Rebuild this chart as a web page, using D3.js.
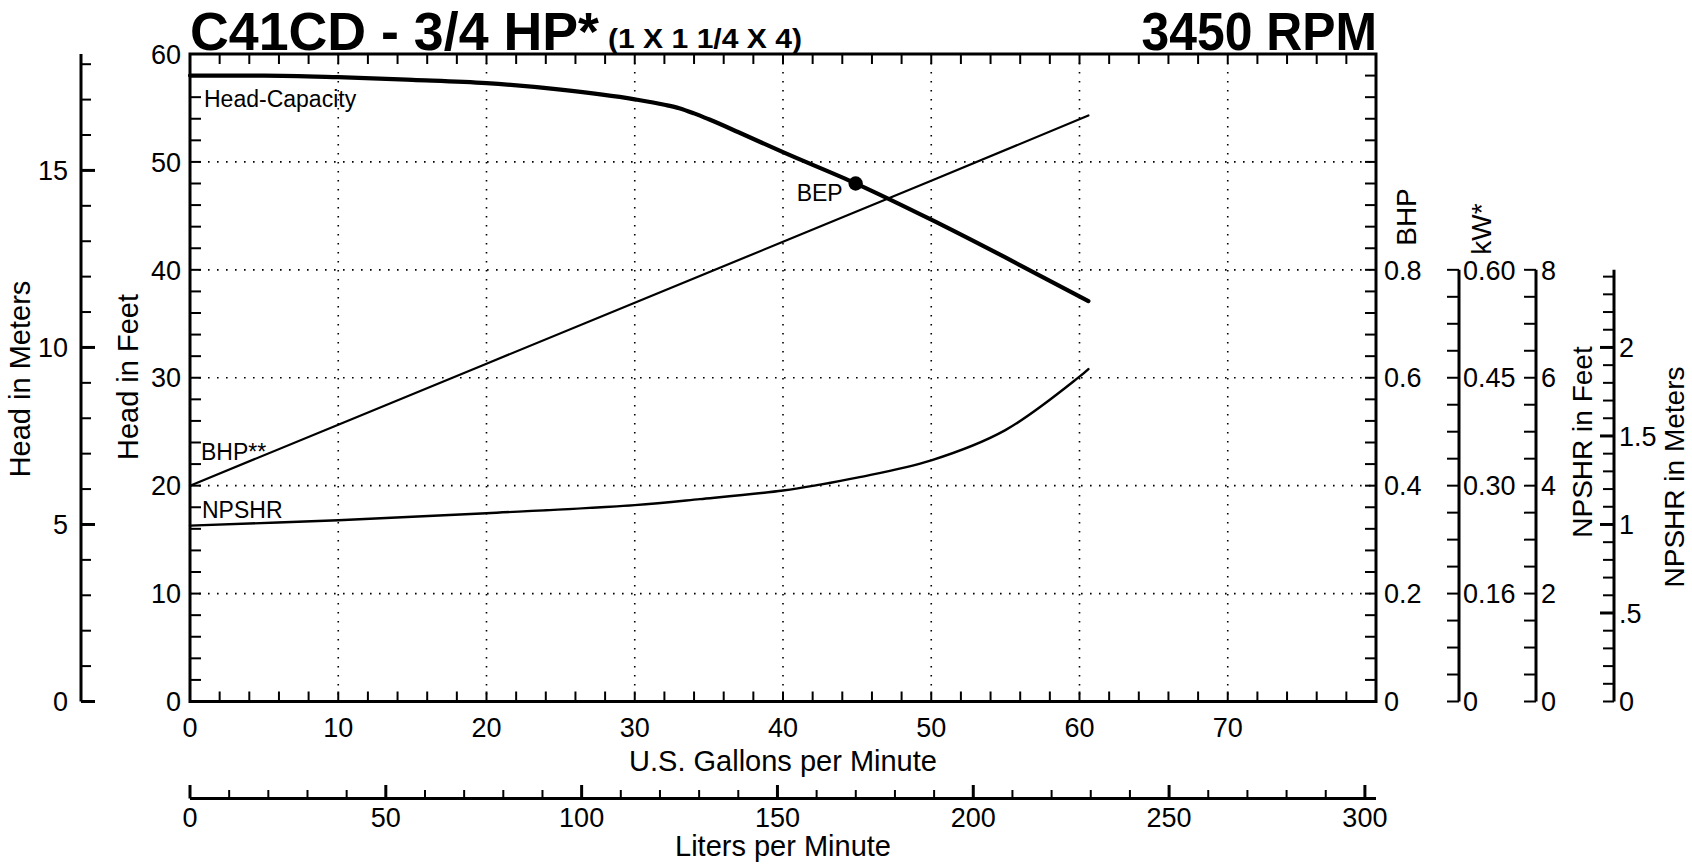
<!DOCTYPE html>
<html><head><meta charset="utf-8">
<script src="https://cdn.jsdelivr.net/npm/d3@7"></script>
<style>
body{margin:0;background:#fff}
svg{display:block}
text{font-family:"Liberation Sans",Arial,Helvetica,sans-serif;fill:#000}
</style>
</head><body>
<svg id="c" width="1692" height="867"></svg>
<script>
// ---------- data ----------
const headGpm  = [0, 5, 10, 15, 20, 25, 30, 32, 33, 34, 35, 37, 40, 45, 50, 55, 60.6];
const headFt   = [58.0, 58.0, 57.85, 57.6, 57.3, 56.7, 55.8, 55.3, 54.98, 54.5, 53.95, 52.75, 50.9, 47.95, 44.65, 41.15, 37.1];
const bhpGpm   = [0, 10, 20, 30, 40, 50, 60.6];
const bhpVal   = [0.40, 0.513, 0.626, 0.739, 0.852, 0.965, 1.086];
const npshrGpm = [0, 10, 20, 30, 34.4, 40, 42.5, 45, 50, 55, 60, 60.6];
const npshrFt  = [3.26, 3.36, 3.49, 3.64, 3.75, 3.91, 4.02, 4.15, 4.47, 5.03, 6.02, 6.16];
const bepGpm = [44.9];
const bepFt  = [48.0];

const gpmLabels    = [0, 10, 20, 30, 40, 50, 60, 70];
const litersLabels = [0, 50, 100, 150, 200, 250, 300];
const feetLabels   = [0, 10, 20, 30, 40, 50, 60];
const meterLabels  = [0, 5, 10, 15];
const bhpLabels    = [0, 0.2, 0.4, 0.6, 0.8];
const bhpLabelText = ["0", "0.2", "0.4", "0.6", "0.8"];
const kwLabelText  = ["0", "0.16", "0.30", "0.45", "0.60"];
const npshrFtLabels = [0, 2, 4, 6, 8];
const npshrMLabels  = [0, 0.5, 1, 1.5, 2];
const npshrMLabelText = ["0", ".5", "1", "1.5", "2"];

const titleMain = "C41CD - 3/4 HP*";
const titleSub  = "(1 X 1 1/4 X 4)";
const titleRpm  = "3450 RPM";

// ---------- scales ----------
const L0 = 190, R0 = 1376, T0 = 54, B0 = 701.5;
const FT_PER_M = 3.28084, L_PER_GAL = 3.78541;
const x   = d3.scaleLinear().domain([0, 80]).range([L0, R0]);
const xL  = d3.scaleLinear().domain([0, 80 * L_PER_GAL]).range([L0, R0]);
const yFt = d3.scaleLinear().domain([0, 60]).range([B0, T0]);
const yM  = d3.scaleLinear().domain([0, 60 / FT_PER_M]).range([B0, T0]);
const yBhp = d3.scaleLinear().domain([0, 1.2]).range([B0, T0]);
const yNF = d3.scaleLinear().domain([0, 12]).range([B0, T0]);
const yNM = d3.scaleLinear().domain([0, 12 / FT_PER_M]).range([B0, T0]);

const svg = d3.select("#c");
const FS = 27;

// ---------- grid ----------
const grid = svg.append("g").attr("stroke", "#000").attr("stroke-width", 1.6)
  .attr("stroke-dasharray", "1.6,7.4");
grid.selectAll(".gv").data(gpmLabels.filter(d => d > 0)).join("line")
  .attr("x1", d => x(d)).attr("x2", d => x(d)).attr("y1", T0).attr("y2", B0);
grid.selectAll(".gh").data(feetLabels.filter(d => d > 0 && d < 60)).join("line")
  .attr("y1", d => yFt(d)).attr("y2", d => yFt(d)).attr("x1", L0).attr("x2", R0);

// ---------- curves ----------
const headData = headGpm.map((g, i) => [g, headFt[i]]);
const bhpData = bhpGpm.map((g, i) => [g, bhpVal[i]]);
const npData = npshrGpm.map((g, i) => [g, npshrFt[i]]);

svg.append("path").datum(headData).attr("fill", "none").attr("stroke", "#000")
  .attr("stroke-width", 4.2).attr("stroke-linecap", "round").attr("stroke-linejoin", "round")
  .attr("d", d3.line().x(d => x(d[0])).y(d => yFt(d[1])).curve(d3.curveMonotoneX));
svg.append("path").datum(bhpData).attr("fill", "none").attr("stroke", "#000")
  .attr("stroke-width", 2.2).attr("stroke-linecap", "round")
  .attr("d", d3.line().x(d => x(d[0])).y(d => yBhp(d[1])));
svg.append("path").datum(npData).attr("fill", "none").attr("stroke", "#000")
  .attr("stroke-width", 2.4).attr("stroke-linecap", "round")
  .attr("d", d3.line().x(d => x(d[0])).y(d => yNF(d[1])).curve(d3.curveCatmullRom.alpha(0.5)));

svg.selectAll(".bep").data(bepGpm).join("circle")
  .attr("cx", d => x(d)).attr("cy", (d, i) => yFt(bepFt[i])).attr("r", 7.2).attr("fill", "#000");

// curve labels
const lab = svg.append("g").attr("font-size", 23);
lab.append("text").attr("x", 204).attr("y", 107).text("Head-Capacity");
lab.append("text").attr("x", 201).attr("y", 460).text("BHP**");
lab.append("text").attr("x", 202).attr("y", 518).text("NPSHR");
lab.append("text").attr("x", x(bepGpm[0]) - 59).attr("y", 201).text("BEP");

// ---------- frame & frame ticks ----------
svg.append("rect").attr("x", L0).attr("y", T0).attr("width", R0 - L0).attr("height", B0 - T0)
  .attr("fill", "none").attr("stroke", "#000").attr("stroke-width", 3);

const minorG = d3.range(0, 80.01, 2);
const minorF = d3.range(0, 60.01, 2);
const tk = svg.append("g").attr("stroke", "#000").attr("stroke-width", 2);
tk.selectAll(".tt").data(minorG).join("line")
  .attr("x1", d => x(d)).attr("x2", d => x(d)).attr("y1", T0).attr("y2", T0 + 10);
tk.selectAll(".tb").data(minorG).join("line")
  .attr("x1", d => x(d)).attr("x2", d => x(d)).attr("y1", B0).attr("y2", B0 - 10);
tk.selectAll(".tl").data(minorF).join("line")
  .attr("y1", d => yFt(d)).attr("y2", d => yFt(d)).attr("x1", L0).attr("x2", L0 + 11);
tk.selectAll(".tr").data(minorF).join("line")
  .attr("y1", d => yFt(d)).attr("y2", d => yFt(d)).attr("x1", R0).attr("x2", R0 - 11);

// feet labels
svg.append("g").attr("font-size", FS).attr("text-anchor", "end")
  .selectAll("text").data(feetLabels).join("text")
  .attr("x", 181).attr("y", d => yFt(d)).attr("dy", "0.36em").text(d => d);

// gpm labels
svg.append("g").attr("font-size", FS).attr("text-anchor", "middle")
  .selectAll("text").data(gpmLabels).join("text")
  .attr("x", d => x(d)).attr("y", 737).text(d => d);
svg.append("text").attr("font-size", 29).attr("text-anchor", "middle")
  .attr("x", (L0 + R0) / 2).attr("y", 771).text("U.S. Gallons per Minute");

// ---------- liters axis ----------
const la = svg.append("g").attr("stroke", "#000");
la.append("line").attr("x1", xL(0)).attr("x2", R0).attr("y1", 798.5).attr("y2", 798.5).attr("stroke-width", 3);
la.selectAll(".lt").data(d3.range(0, 300.01, 10)).join("line")
  .attr("x1", d => xL(d)).attr("x2", d => xL(d)).attr("y1", 798.5)
  .attr("y2", d => d % 50 === 0 ? 785 : 790).attr("stroke-width", d => d % 50 === 0 ? 3 : 2);
svg.append("g").attr("font-size", FS).attr("text-anchor", "middle")
  .selectAll("text").data(litersLabels).join("text")
  .attr("x", d => xL(d)).attr("y", 827).text(d => d);
svg.append("text").attr("font-size", 29).attr("text-anchor", "middle")
  .attr("x", (L0 + R0) / 2).attr("y", 856).text("Liters per Minute");

// ---------- head in meters axis ----------
const MX = 81;
const ma = svg.append("g").attr("stroke", "#000");
ma.append("line").attr("x1", MX).attr("x2", MX).attr("y1", yM(0)).attr("y2", T0).attr("stroke-width", 3);
ma.selectAll(".mt").data(d3.range(0, 18.01, 1)).join("line")
  .attr("y1", d => yM(d)).attr("y2", d => yM(d)).attr("x1", MX)
  .attr("x2", d => d % 5 === 0 ? MX + 14 : MX + 10).attr("stroke-width", d => d % 5 === 0 ? 3 : 2);
svg.append("g").attr("font-size", FS).attr("text-anchor", "end")
  .selectAll("text").data(meterLabels).join("text")
  .attr("x", 68).attr("y", d => yM(d)).attr("dy", "0.36em").text(d => d);

// ---------- right axes ----------
svg.append("g").attr("font-size", FS)
  .selectAll("text").data(bhpLabels).join("text")
  .attr("x", 1384).attr("y", d => yBhp(d)).attr("dy", "0.36em").text((d, i) => bhpLabelText[i]);

// kW axis (positioned in BHP units)
const KX = 1459;
const ka = svg.append("g").attr("stroke", "#000");
ka.append("line").attr("x1", KX).attr("x2", KX).attr("y1", yBhp(0)).attr("y2", yBhp(0.8)).attr("stroke-width", 3);
ka.selectAll(".kt").data(d3.range(0, 0.8001, 0.05)).join("line")
  .attr("y1", d => yBhp(d)).attr("y2", d => yBhp(d)).attr("x1", KX).attr("x2", KX - 12).attr("stroke-width", 2);
svg.append("g").attr("font-size", FS)
  .selectAll("text").data(bhpLabels).join("text")
  .attr("x", KX + 4).attr("y", d => yBhp(d)).attr("dy", "0.36em").text((d, i) => kwLabelText[i]);

// NPSHR feet axis
const NFX = 1536;
const nfa = svg.append("g").attr("stroke", "#000");
nfa.append("line").attr("x1", NFX).attr("x2", NFX).attr("y1", yNF(0)).attr("y2", yNF(8)).attr("stroke-width", 3);
nfa.selectAll(".nt").data(d3.range(0, 8.001, 0.5)).join("line")
  .attr("y1", d => yNF(d)).attr("y2", d => yNF(d)).attr("x1", NFX).attr("x2", NFX - 12).attr("stroke-width", 2);
svg.append("g").attr("font-size", FS)
  .selectAll("text").data(npshrFtLabels).join("text")
  .attr("x", NFX + 5).attr("y", d => yNF(d)).attr("dy", "0.36em").text(d => d);

// NPSHR meters axis
const NMX = 1614;
const nma = svg.append("g").attr("stroke", "#000");
nma.append("line").attr("x1", NMX).attr("x2", NMX).attr("y1", yNM(0)).attr("y2", yNF(8)).attr("stroke-width", 3);
nma.selectAll(".mt2").data(d3.range(0, 2.4001, 0.1)).join("line")
  .attr("y1", d => yNM(d)).attr("y2", d => yNM(d)).attr("x1", NMX)
  .attr("x2", d => Math.abs(d * 2 - Math.round(d * 2)) < 1e-6 && d > 0 ? NMX - 14 : NMX - 11)
  .attr("stroke-width", d => Math.abs(d * 2 - Math.round(d * 2)) < 1e-6 && d > 0 ? 3 : 2);
svg.append("g").attr("font-size", FS)
  .selectAll("text").data(npshrMLabels).join("text")
  .attr("x", NMX + 5).attr("y", d => yNM(d)).attr("dy", "0.36em").text((d, i) => npshrMLabelText[i]);

// ---------- rotated axis titles ----------
function vtitle(tx, ty, s, fs) {
  svg.append("text").attr("font-size", fs).attr("text-anchor", "middle")
    .attr("transform", `translate(${tx},${ty}) rotate(-90)`).text(s);
}
vtitle(30, 379, "Head in Meters", 29);
vtitle(138, 377, "Head in Feet", 29);
vtitle(1416, 217, "BHP", 28);
vtitle(1491, 229, "kW*", 28);
vtitle(1592, 442, "NPSHR in Feet", 28);
vtitle(1684, 477, "NPSHR in Meters", 28);

// ---------- titles ----------
svg.append("text").attr("x", 190).attr("y", 49.5).attr("font-size", 54).attr("font-weight", "bold")
  .attr("textLength", 409).attr("lengthAdjust", "spacingAndGlyphs").text(titleMain);
svg.append("text").attr("x", 608).attr("y", 47.5).attr("font-size", 28).attr("font-weight", "bold")
  .attr("textLength", 194).attr("lengthAdjust", "spacingAndGlyphs").text(titleSub);
svg.append("text").attr("x", 1141.5).attr("y", 49.5).attr("font-size", 54).attr("font-weight", "bold")
  .attr("textLength", 235.5).attr("lengthAdjust", "spacingAndGlyphs").text(titleRpm);
</script>
</body></html>
